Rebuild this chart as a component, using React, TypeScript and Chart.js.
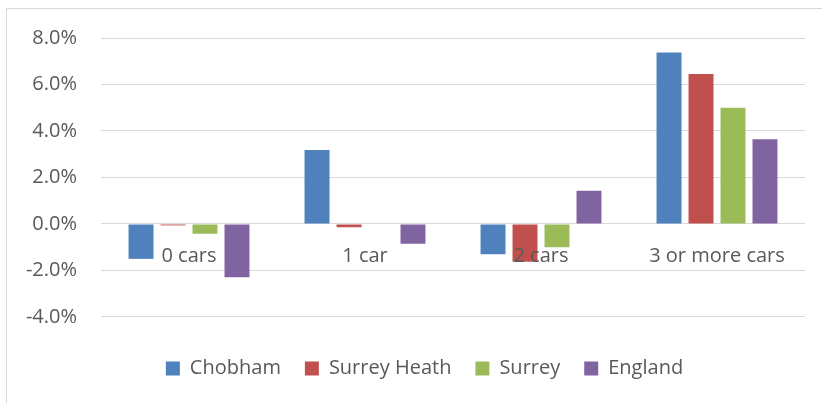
import React, { useEffect, useRef } from 'react';
import { Chart, registerables } from 'chart.js';

Chart.register(...registerables);

const categories = ['0 cars', '1 car', '2 cars', '3 or more cars'];
const seriesNames = ['Chobham', 'Surrey Heath', 'Surrey', 'England'];
const chobham = [-1.5, 3.18, -1.3, 7.38];
const surreyHeath = [-0.06, -0.14, -1.62, 6.45];
const surrey = [-0.42, 0.0, -1.0, 5.0];
const england = [-2.29, -0.85, 1.43, 3.64];
const seriesColors = ['#4F81BD', '#C0504D', '#9BBB59', '#8064A2'];
const yMin = -4;
const yMax = 8;
const yStep = 2;

const FONT = "'Open Sans', sans-serif";
const TEXT = '#595959';

const unclipY = {
  id: 'unclipY',
  afterLayout(chart: any) {
    if (chart.scales.y) chart.scales.y.left = 0;
  },
};

export default function App() {
  const ref = useRef<HTMLCanvasElement | null>(null);

  useEffect(() => {
    if (!ref.current) return;
    const values = [chobham, surreyHeath, surrey, england];
    const chart = new Chart(ref.current, {
      type: 'bar',
      data: {
        labels: categories,
        datasets: seriesNames.map((name, i) => ({
          label: name,
          data: values[i],
          backgroundColor: seriesColors[i],
          borderWidth: 0,
          categoryPercentage: 0.727,
          barPercentage: 0.78,
        })),
      },
      plugins: [unclipY],
      options: {
        animation: false,
        responsive: false,
        devicePixelRatio: 1,
        layout: { padding: { left: 44, right: 17, top: 38, bottom: 14.5 } },
        scales: {
          x: {
            type: 'category',
            position: { y: 0 } as any,
            grid: { display: false },
            border: { display: false },
            ticks: {
              z: 1,
              color: TEXT,
              font: { family: FONT, size: 20 },
              padding: 12,
              maxRotation: 0,
              autoSkip: false,
            },
          },
          y: {
            min: yMin,
            max: yMax,
            grid: { color: '#d9d9d9', lineWidth: 1, drawTicks: false },
            border: { display: false },
            ticks: {
              stepSize: yStep,
              color: TEXT,
              font: { family: FONT, size: 20 },
              padding: 24,
              callback: (v: any) => Number(v).toFixed(1) + '%',
            },
            afterFit: (scale: any) => {
              scale.width = 57;
            },
          },
        },
        plugins: {
          legend: {
            position: 'bottom',
            title: { display: true, text: '', font: { size: 14.6 }, padding: 0 },
            labels: {
              boxWidth: 14,
              boxHeight: 14,
              padding: 24,
              color: TEXT,
              font: { family: FONT, size: 20 },
            },
          },
          tooltip: { enabled: false },
        },
      },
    });
    return () => chart.destroy();
  }, []);

  return (
    <div
      style={{
        position: 'fixed',
        left: 0,
        top: 0,
        width: 822,
        height: 403,
        overflow: 'hidden',
        background: '#ffffff',
      }}
    >
      <div
        style={{
          position: 'absolute',
          left: 6,
          top: 8,
          width: 840,
          height: 420,
          border: '1px solid #d9d9d9',
          boxSizing: 'border-box',
        }}
      />
      <canvas
        ref={ref}
        width={822}
        height={403}
        style={{ position: 'absolute', left: 0, top: 0, width: 822, height: 403 }}
      />
    </div>
  );
}
